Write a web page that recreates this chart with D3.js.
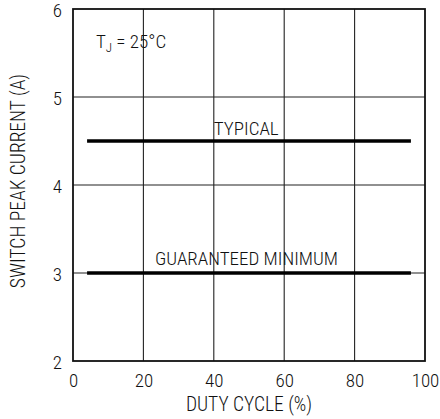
<!DOCTYPE html>
<html><head><meta charset="utf-8">
<script src="https://cdn.jsdelivr.net/npm/d3@7"></script>
<style>
body{margin:0;background:#fff;}
text{font-family:"Roboto Condensed",Roboto,sans-serif;font-stretch:condensed;font-weight:350;fill:#111;}
</style></head>
<body><svg id="c" width="440" height="419"></svg>
<script>
const xTicks = [0, 20, 40, 60, 80, 100];
const yTicks = [2, 3, 4, 5, 6];
const seriesNames = ["TYPICAL", "GUARANTEED MINIMUM"];
const dutyCycle = [4, 96];
const typical = [4.5, 4.5];
const guaranteedMin = [3.0, 3.0];

const FS = 19;
const svg = d3.select("#c");
const m = {l: 73, r: 15, t: 9, b: 58};
const W = 440, H = 419;
const x = d3.scaleLinear().domain([0, 100]).range([m.l, W - m.r]);
const y = d3.scaleLinear().domain([2, 6]).range([H - m.b, m.t]);

// grid
const g = svg.append("g");
g.selectAll(".vg").data(xTicks.slice(1, -1)).join("line")
  .attr("x1", d => x(d)).attr("x2", d => x(d)).attr("y1", y(6)).attr("y2", y(2))
  .attr("stroke", "#222").attr("stroke-width", 1.1);
g.selectAll(".hg").data(yTicks.slice(1, -1)).join("line")
  .attr("y1", d => y(d)).attr("y2", d => y(d)).attr("x1", x(0)).attr("x2", x(100))
  .attr("stroke", "#222").attr("stroke-width", 1.1);
svg.append("rect").attr("x", x(0)).attr("y", y(6)).attr("width", x(100) - x(0)).attr("height", y(2) - y(6))
  .attr("fill", "none").attr("stroke", "#111").attr("stroke-width", 1.8);

// axes tick labels
const xa = svg.append("g").attr("transform", `translate(0,${y(2)})`)
  .call(d3.axisBottom(x).tickValues(xTicks).tickSize(0).tickFormat(d3.format("d")));
xa.select(".domain").remove();
xa.selectAll("text").attr("font-size", FS).attr("fill", "#111").attr("y", 26).attr("dy", 0);
const ya = svg.append("g").attr("transform", `translate(${x(0)},0)`)
  .call(d3.axisLeft(y).tickValues(yTicks).tickSize(0).tickFormat(d3.format("d")));
ya.select(".domain").remove();
ya.selectAll("text").attr("font-size", FS).attr("fill", "#111").attr("x", -11).attr("dy", "0.42em");

// series
const line = d3.line().x(d => x(d[0])).y(d => y(d[1]));
const data = [typical, guaranteedMin];
data.forEach((vals, i) => {
  const pts = dutyCycle.map((d, j) => [d, vals[j]]);
  svg.append("path").attr("d", line(pts)).attr("fill", "none").attr("stroke", "#000").attr("stroke-width", 3.5);
});
svg.append("text").attr("x", x(40)).attr("y", y(4.5) - 6).attr("font-size", FS).text(seriesNames[0]);
svg.append("text").attr("x", x(23.3)).attr("y", y(3.0) - 8).attr("font-size", FS).text(seriesNames[1]);

// annotation
const t = svg.append("text").attr("x", x(6.5)).attr("y", y(5.557)).attr("font-size", FS);
t.append("tspan").text("T");
t.append("tspan").attr("dy", 4).attr("font-size", 13).text("J");
t.append("tspan").attr("dy", -4).text(" = 25°C");

// titles
svg.append("text").attr("x", (x(0) + x(100)) / 2).attr("y", 411).attr("text-anchor", "middle").attr("font-size", 19.5).text("DUTY CYCLE (%)");
svg.append("text").attr("transform", `translate(25,181) rotate(-90)`).attr("text-anchor", "middle").attr("font-size", 19.5).text("SWITCH PEAK CURRENT (A)");
</script></body></html>
